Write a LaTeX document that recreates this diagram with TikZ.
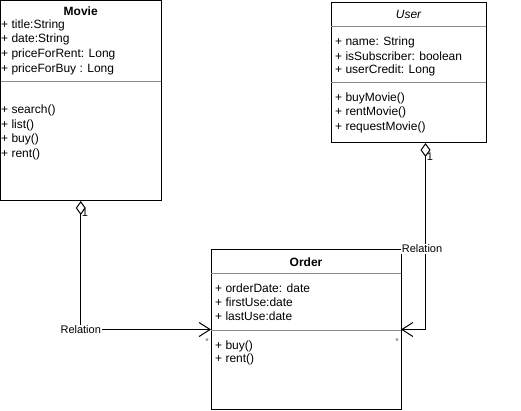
\documentclass[tikz,border=0pt]{standalone}
\usepackage{fontspec}
\setmainfont{Liberation Sans}
\usetikzlibrary{arrows.meta}
\definecolor{sepgray}{RGB}{140,140,140}

\tikzset{
  classbox/.style={draw, line width=1pt, anchor=north west, inner sep=0pt, outer sep=0pt},
  classname/.style={inner sep=0pt, font=\fontsize{12}{14}\selectfont\bfseries},
  member/.style={anchor=west, inner sep=0pt, font=\fontsize{12}{14}\selectfont},
  sep/.style={draw=sepgray, line width=1pt},
  assoc/.style={line width=1pt,
    {Diamond[open,length=14pt,width=10pt]}-{Straight Barb[length=11pt,width=14pt]}},
  rel/.style={fill=white, inner sep=1pt, font=\fontsize{11}{13}\selectfont},
  mult/.style={inner sep=0pt, font=\fontsize{11}{13}\selectfont},
  many/.style={inner sep=0pt, text=black!60, font=\fontsize{9}{10}\selectfont}
}

\begin{document}
\begin{tikzpicture}[x=1pt,y=-1pt]
\useasboundingbox (0,0) rectangle (521,411);

% class boxes
\node[classbox, minimum width=160.5pt, minimum height=200.5pt] (movie) at (0.5,0.5) {};
\node[classbox, minimum width=155pt, minimum height=140pt] (user) at (331,3) {};
\node[classbox, minimum width=190pt, minimum height=159pt] (order) at (211,250) {};

% Movie
\node[classname] (movie-name) at (movie.north |- 0,11) {Movie};
\draw[sep] (0.5,82) -- (161,82);
\foreach \txt [count=\i] in {+ title:String, + date:String, + priceForRent: Long, + priceForBuy : Long}
  \node[member] (movie-attr\i) at (1,10.5+14.7*\i) {\txt};
\foreach \txt [count=\i] in {+ search(), + list(), + buy(), + rent()}
  \node[member] (movie-op\i) at (1,95.5+14.7*\i) {\txt};

% User
\node[classname, font=\fontsize{12}{14}\selectfont\itshape] (user-name) at (user.north |- 0,14) {User};
\draw[sep] (331,27) -- (486,27);
\draw[sep] (331,83) -- (486,83);
\foreach \txt [count=\i] in {+ name: String, + isSubscriber: boolean, + userCredit: Long}
  \node[member] (user-attr\i) at (335,28+14*\i) {\txt};
\foreach \txt [count=\i] in {+ buyMovie(), + rentMovie(), + requestMovie()}
  \node[member] (user-op\i) at (335,84+14.3*\i) {\txt};

% Order
\node[classname] (order-name) at (order.north |- 0,262) {Order};
\draw[sep] (211,273) -- (401,273);
\draw[sep] (211,330) -- (401,330);
\foreach \txt [count=\i] in {+ orderDate: date, + firstUse:date, + lastUse:date}
  \node[member] (order-attr\i) at (215,274+14*\i) {\txt};
\foreach \txt [count=\i] in {+ buy(), + rent()}
  \node[member] (order-op\i) at (215,332.5+13.5*\i) {\txt};

% relations
\draw[assoc] (movie.south) |- (order.west);
\draw[assoc] ([xshift=17pt]user.south) |- (order.east);
\node[rel] (rel-movie) at (80.75,330) {Relation};
\node[rel] (rel-user) at (422,249) {Relation};
\node[mult] (one-movie) at (85,213) {1};
\node[mult] (one-user) at (430,157) {1};
\node[many] (many-left) at (207,341) {*};
\node[many] (many-right) at (397,341) {*};
\end{tikzpicture}
\end{document}
